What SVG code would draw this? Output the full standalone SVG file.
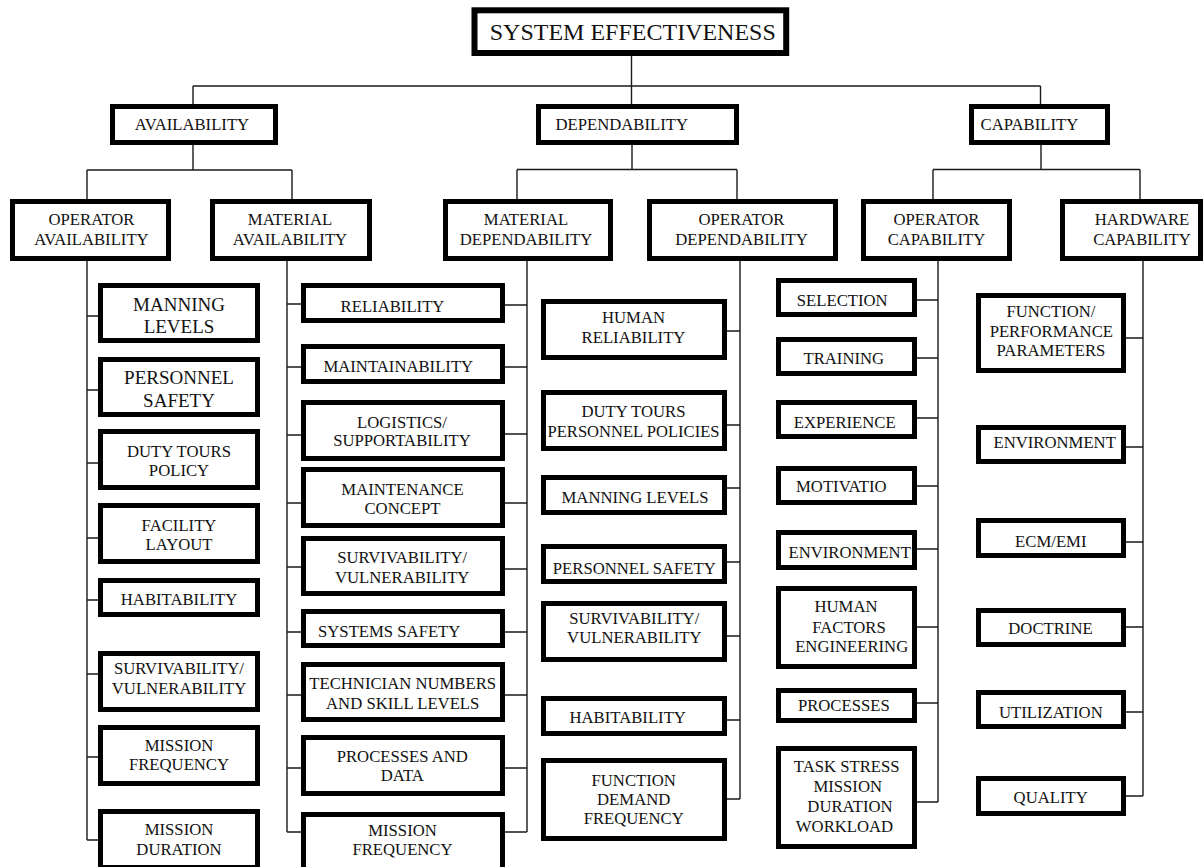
<svg xmlns="http://www.w3.org/2000/svg" width="1203" height="867" viewBox="0 0 1203 867">
<style>
.b{fill:#fff;stroke:#000;stroke-width:5}
.b0{fill:#fff;stroke:#000;stroke-width:6}
.t{font-family:"Liberation Serif","Times New Roman",serif;font-size:16.7px;fill:#111;text-anchor:middle}
.tl{font-size:19px}
.t0{font-size:24px}
.c{fill:none;stroke:#1a1a1a;stroke-width:1.4}
</style>
<rect width="1203" height="867" fill="#fff"/>
<g id="connectors" class="c">
<path d="M631.5 56V104M193 86H1040.5M193 86V104M1040.5 86V104"/>
<path d="M193 145V170M87 170H292M87 170V199M292 170V199"/>
<path d="M632 145V169.5M517 169.5H737M517 169.5V199M737 169.5V199"/>
<path d="M1041 145V169.5M933 169.5H1140M933 169.5V199M1140 169.5V199"/>
<path d="M87 261V840M87 316H98M87 390H98M87 463H98M87 538H98M87 600H98M87 674H98M87 757H98M87 840H98"/>
<path d="M287 261V832M287 304H301M287 367H301M287 435H301M287 503H301M287 567H301M287 632H301M287 695H301M287 768H301M287 832H301"/>
<path d="M527 261V832M505 305H527M505 367H527M505 434H527M505 503H527M505 569H527M505 632H527M505 695H527M505 768H527M505 832H527"/>
<path d="M740 261V799M727 331H740M727 425H740M727 488H740M727 562H740M727 636H740M727 720H740M727 799H740"/>
<path d="M938 261V802M917 300H938M917 358H938M917 418H938M917 486H938M917 549H938M917 627H938M917 703H938M917 802H938"/>
<path d="M1143 261V796M1126 338H1143M1126 447H1143M1126 542H1143M1126 627H1143M1126 712H1143M1126 796H1143"/>
</g>
<g id="n-system"><rect class="b0" x="474.5" y="10.3" width="311.7" height="42.7"/><text class="t t0" x="632.8" y="39.5">SYSTEM EFFECTIVENESS</text></g>
<g id="n-availability"><rect class="b" x="112.5" y="106.5" width="163" height="36"/><text class="t" x="192" y="130">AVAILABILITY</text></g>
<g id="n-dependability"><rect class="b" x="538.5" y="106.5" width="198" height="36"/><text class="t" x="621.7" y="130">DEPENDABILITY</text></g>
<g id="n-capability"><rect class="b" x="971.5" y="106.5" width="136" height="36"/><text class="t" x="1029.4" y="130">CAPABILITY</text></g>
<g id="n-op-avail"><rect class="b" x="12.5" y="201.5" width="156" height="57"/><text class="t" x="91.5" y="224.5">OPERATOR</text><text class="t" x="91.5" y="244.5">AVAILABILITY</text></g>
<g id="n-mat-avail"><rect class="b" x="212.5" y="201.5" width="157" height="57"/><text class="t" x="290" y="224.5">MATERIAL</text><text class="t" x="290" y="244.5">AVAILABILITY</text></g>
<g id="n-mat-dep"><rect class="b" x="445.5" y="201.5" width="165" height="57"/><text class="t" x="526" y="224.5">MATERIAL</text><text class="t" x="526" y="244.5">DEPENDABILITY</text></g>
<g id="n-op-dep"><rect class="b" x="649.5" y="201.5" width="186" height="57"/><text class="t" x="741.5" y="224.5">OPERATOR</text><text class="t" x="741.5" y="244.5">DEPENDABILITY</text></g>
<g id="n-op-cap"><rect class="b" x="863.5" y="201.5" width="146" height="57"/><text class="t" x="936.5" y="224.5">OPERATOR</text><text class="t" x="936.5" y="244.5">CAPABILITY</text></g>
<g id="n-hw-cap"><rect class="b" x="1062.5" y="201.5" width="138" height="57"/><text class="t" x="1142" y="224.5">HARDWARE</text><text class="t" x="1142" y="244.5">CAPABILITY</text></g>
<g id="n-oa-manning"><rect class="b" x="100.5" y="285.5" width="157" height="55"/><text class="t tl" x="179" y="311">MANNING</text><text class="t tl" x="179" y="332.5">LEVELS</text></g>
<g id="n-oa-safety"><rect class="b" x="100.5" y="359.5" width="157" height="55"/><text class="t tl" x="179" y="384">PERSONNEL</text><text class="t tl" x="179" y="406.5">SAFETY</text></g>
<g id="n-oa-duty"><rect class="b" x="100.5" y="431.5" width="157" height="56"/><text class="t" x="179" y="456.5">DUTY TOURS</text><text class="t" x="179" y="476">POLICY</text></g>
<g id="n-oa-facility"><rect class="b" x="100.5" y="505.5" width="157" height="56"/><text class="t" x="179" y="530.5">FACILITY</text><text class="t" x="179" y="549.5">LAYOUT</text></g>
<g id="n-oa-habit"><rect class="b" x="100.5" y="580.5" width="157" height="34"/><text class="t" x="179" y="605">HABITABILITY</text></g>
<g id="n-oa-surv"><rect class="b" x="100.5" y="653.5" width="157" height="56"/><text class="t" x="179" y="674">SURVIVABILITY/</text><text class="t" x="179" y="694">VULNERABILITY</text></g>
<g id="n-oa-mfreq"><rect class="b" x="100.5" y="727.5" width="157" height="56"/><text class="t" x="179" y="750.5">MISSION</text><text class="t" x="179" y="769.5">FREQUENCY</text></g>
<g id="n-oa-mdur"><rect class="b" x="100.5" y="811.5" width="157" height="56"/><text class="t" x="179" y="835">MISSION</text><text class="t" x="179" y="855">DURATION</text></g>
<g id="n-ma-rel"><rect class="b" x="303.5" y="285.5" width="199" height="35"/><text class="t" x="392.5" y="311.5">RELIABILITY</text></g>
<g id="n-ma-maint"><rect class="b" x="303.5" y="346.5" width="199" height="35"/><text class="t" x="398.3" y="371.5">MAINTAINABILITY</text></g>
<g id="n-ma-log"><rect class="b" x="303.5" y="402.5" width="199" height="56"/><text class="t" x="402" y="427.7">LOGISTICS/</text><text class="t" x="402" y="446">SUPPORTABILITY</text></g>
<g id="n-ma-concept"><rect class="b" x="303.5" y="469.5" width="199" height="56"/><text class="t" x="402.5" y="495">MAINTENANCE</text><text class="t" x="402.5" y="513.5">CONCEPT</text></g>
<g id="n-ma-surv"><rect class="b" x="303.5" y="538.5" width="199" height="55"/><text class="t" x="402.2" y="562.5">SURVIVABILITY/</text><text class="t" x="402.2" y="582.5">VULNERABILITY</text></g>
<g id="n-ma-syssafe"><rect class="b" x="303.5" y="611.5" width="199" height="34"/><text class="t" x="389.2" y="636.5">SYSTEMS SAFETY</text></g>
<g id="n-ma-tech"><rect class="b" x="303.5" y="664.5" width="199" height="55"/><text class="t" x="402.7" y="689">TECHNICIAN NUMBERS</text><text class="t" x="402.7" y="709">AND SKILL LEVELS</text></g>
<g id="n-ma-proc"><rect class="b" x="303.5" y="737.5" width="199" height="56"/><text class="t" x="402.3" y="761.5">PROCESSES AND</text><text class="t" x="402.3" y="781">DATA</text></g>
<g id="n-ma-mfreq"><rect class="b" x="303.5" y="814.5" width="199" height="56"/><text class="t" x="402.5" y="835.5">MISSION</text><text class="t" x="402.5" y="854.5">FREQUENCY</text></g>
<g id="n-od-human"><rect class="b" x="543.5" y="301.5" width="181" height="56"/><text class="t" x="633.5" y="322.5">HUMAN</text><text class="t" x="633.5" y="342.5">RELIABILITY</text></g>
<g id="n-od-duty"><rect class="b" x="543.5" y="392.5" width="181" height="56"/><text class="t" x="633.5" y="416.5">DUTY TOURS</text><text class="t" x="633.5" y="436.5" textLength="172" lengthAdjust="spacingAndGlyphs">PERSONNEL POLICIES</text></g>
<g id="n-od-manning"><rect class="b" x="543.5" y="477.5" width="181" height="35"/><text class="t" x="635" y="503.3">MANNING LEVELS</text></g>
<g id="n-od-safety"><rect class="b" x="543.5" y="546.5" width="181" height="35"/><text class="t" x="634.3" y="573.5">PERSONNEL SAFETY</text></g>
<g id="n-od-surv"><rect class="b" x="543.5" y="603.5" width="181" height="56"/><text class="t" x="634.3" y="623.5">SURVIVABILITY/</text><text class="t" x="634.3" y="642.5">VULNERABILITY</text></g>
<g id="n-od-habit"><rect class="b" x="543.5" y="698.5" width="181" height="35"/><text class="t" x="627.7" y="722.7">HABITABILITY</text></g>
<g id="n-od-func"><rect class="b" x="543.5" y="760.5" width="181" height="78"/><text class="t" x="633.7" y="785.7">FUNCTION</text><text class="t" x="633.7" y="805">DEMAND</text><text class="t" x="633.7" y="823.7">FREQUENCY</text></g>
<g id="n-oc-sel"><rect class="b" x="778.5" y="280.5" width="136" height="34"/><text class="t" x="842.2" y="305.7">SELECTION</text></g>
<g id="n-oc-train"><rect class="b" x="778.5" y="339.5" width="136" height="34"/><text class="t" x="843.8" y="364">TRAINING</text></g>
<g id="n-oc-exp"><rect class="b" x="778.5" y="402.5" width="136" height="34"/><text class="t" x="844.7" y="427.7">EXPERIENCE</text></g>
<g id="n-oc-motiv"><rect class="b" x="778.5" y="468.5" width="136" height="34"/><text class="t" x="841.3" y="492.3">MOTIVATIO</text></g>
<g id="n-oc-env"><rect class="b" x="778.5" y="532.5" width="136" height="35"/><text class="t" x="849.7" y="557.7">ENVIRONMENT</text></g>
<g id="n-oc-hfe"><rect class="b" x="778.5" y="588.5" width="136" height="78"/><text class="t" x="846" y="611.7">HUMAN</text><text class="t" x="849" y="632.7">FACTORS</text><text class="t" x="851.7" y="651.7">ENGINEERING</text></g>
<g id="n-oc-proc"><rect class="b" x="778.5" y="690.5" width="136" height="30"/><text class="t" x="843.8" y="711">PROCESSES</text></g>
<g id="n-oc-task"><rect class="b" x="778.5" y="748.5" width="136" height="98"/><text class="t" x="846.7" y="772.3">TASK STRESS</text><text class="t" x="847.7" y="792.3">MISSION</text><text class="t" x="850" y="811.7">DURATION</text><text class="t" x="844.5" y="831.7">WORKLOAD</text></g>
<g id="n-hc-func"><rect class="b" x="978.5" y="295.5" width="145" height="75"/><text class="t" x="1051" y="316.7">FUNCTION/</text><text class="t" x="1051.3" y="336.7">PERFORMANCE</text><text class="t" x="1051" y="355.7">PARAMETERS</text></g>
<g id="n-hc-env"><rect class="b" x="978.5" y="427.5" width="145" height="34"/><text class="t" x="1054.7" y="448.3">ENVIRONMENT</text></g>
<g id="n-hc-ecm"><rect class="b" x="978.5" y="520.5" width="145" height="35"/><text class="t" x="1050.8" y="546.7">ECM/EMI</text></g>
<g id="n-hc-doct"><rect class="b" x="978.5" y="610.5" width="145" height="34"/><text class="t" x="1050.5" y="634">DOCTRINE</text></g>
<g id="n-hc-util"><rect class="b" x="978.5" y="692.5" width="145" height="34"/><text class="t" x="1050.8" y="718.3">UTILIZATION</text></g>
<g id="n-hc-qual"><rect class="b" x="978.5" y="778.5" width="145" height="35"/><text class="t" x="1050.7" y="803.3">QUALITY</text></g>
</svg>
